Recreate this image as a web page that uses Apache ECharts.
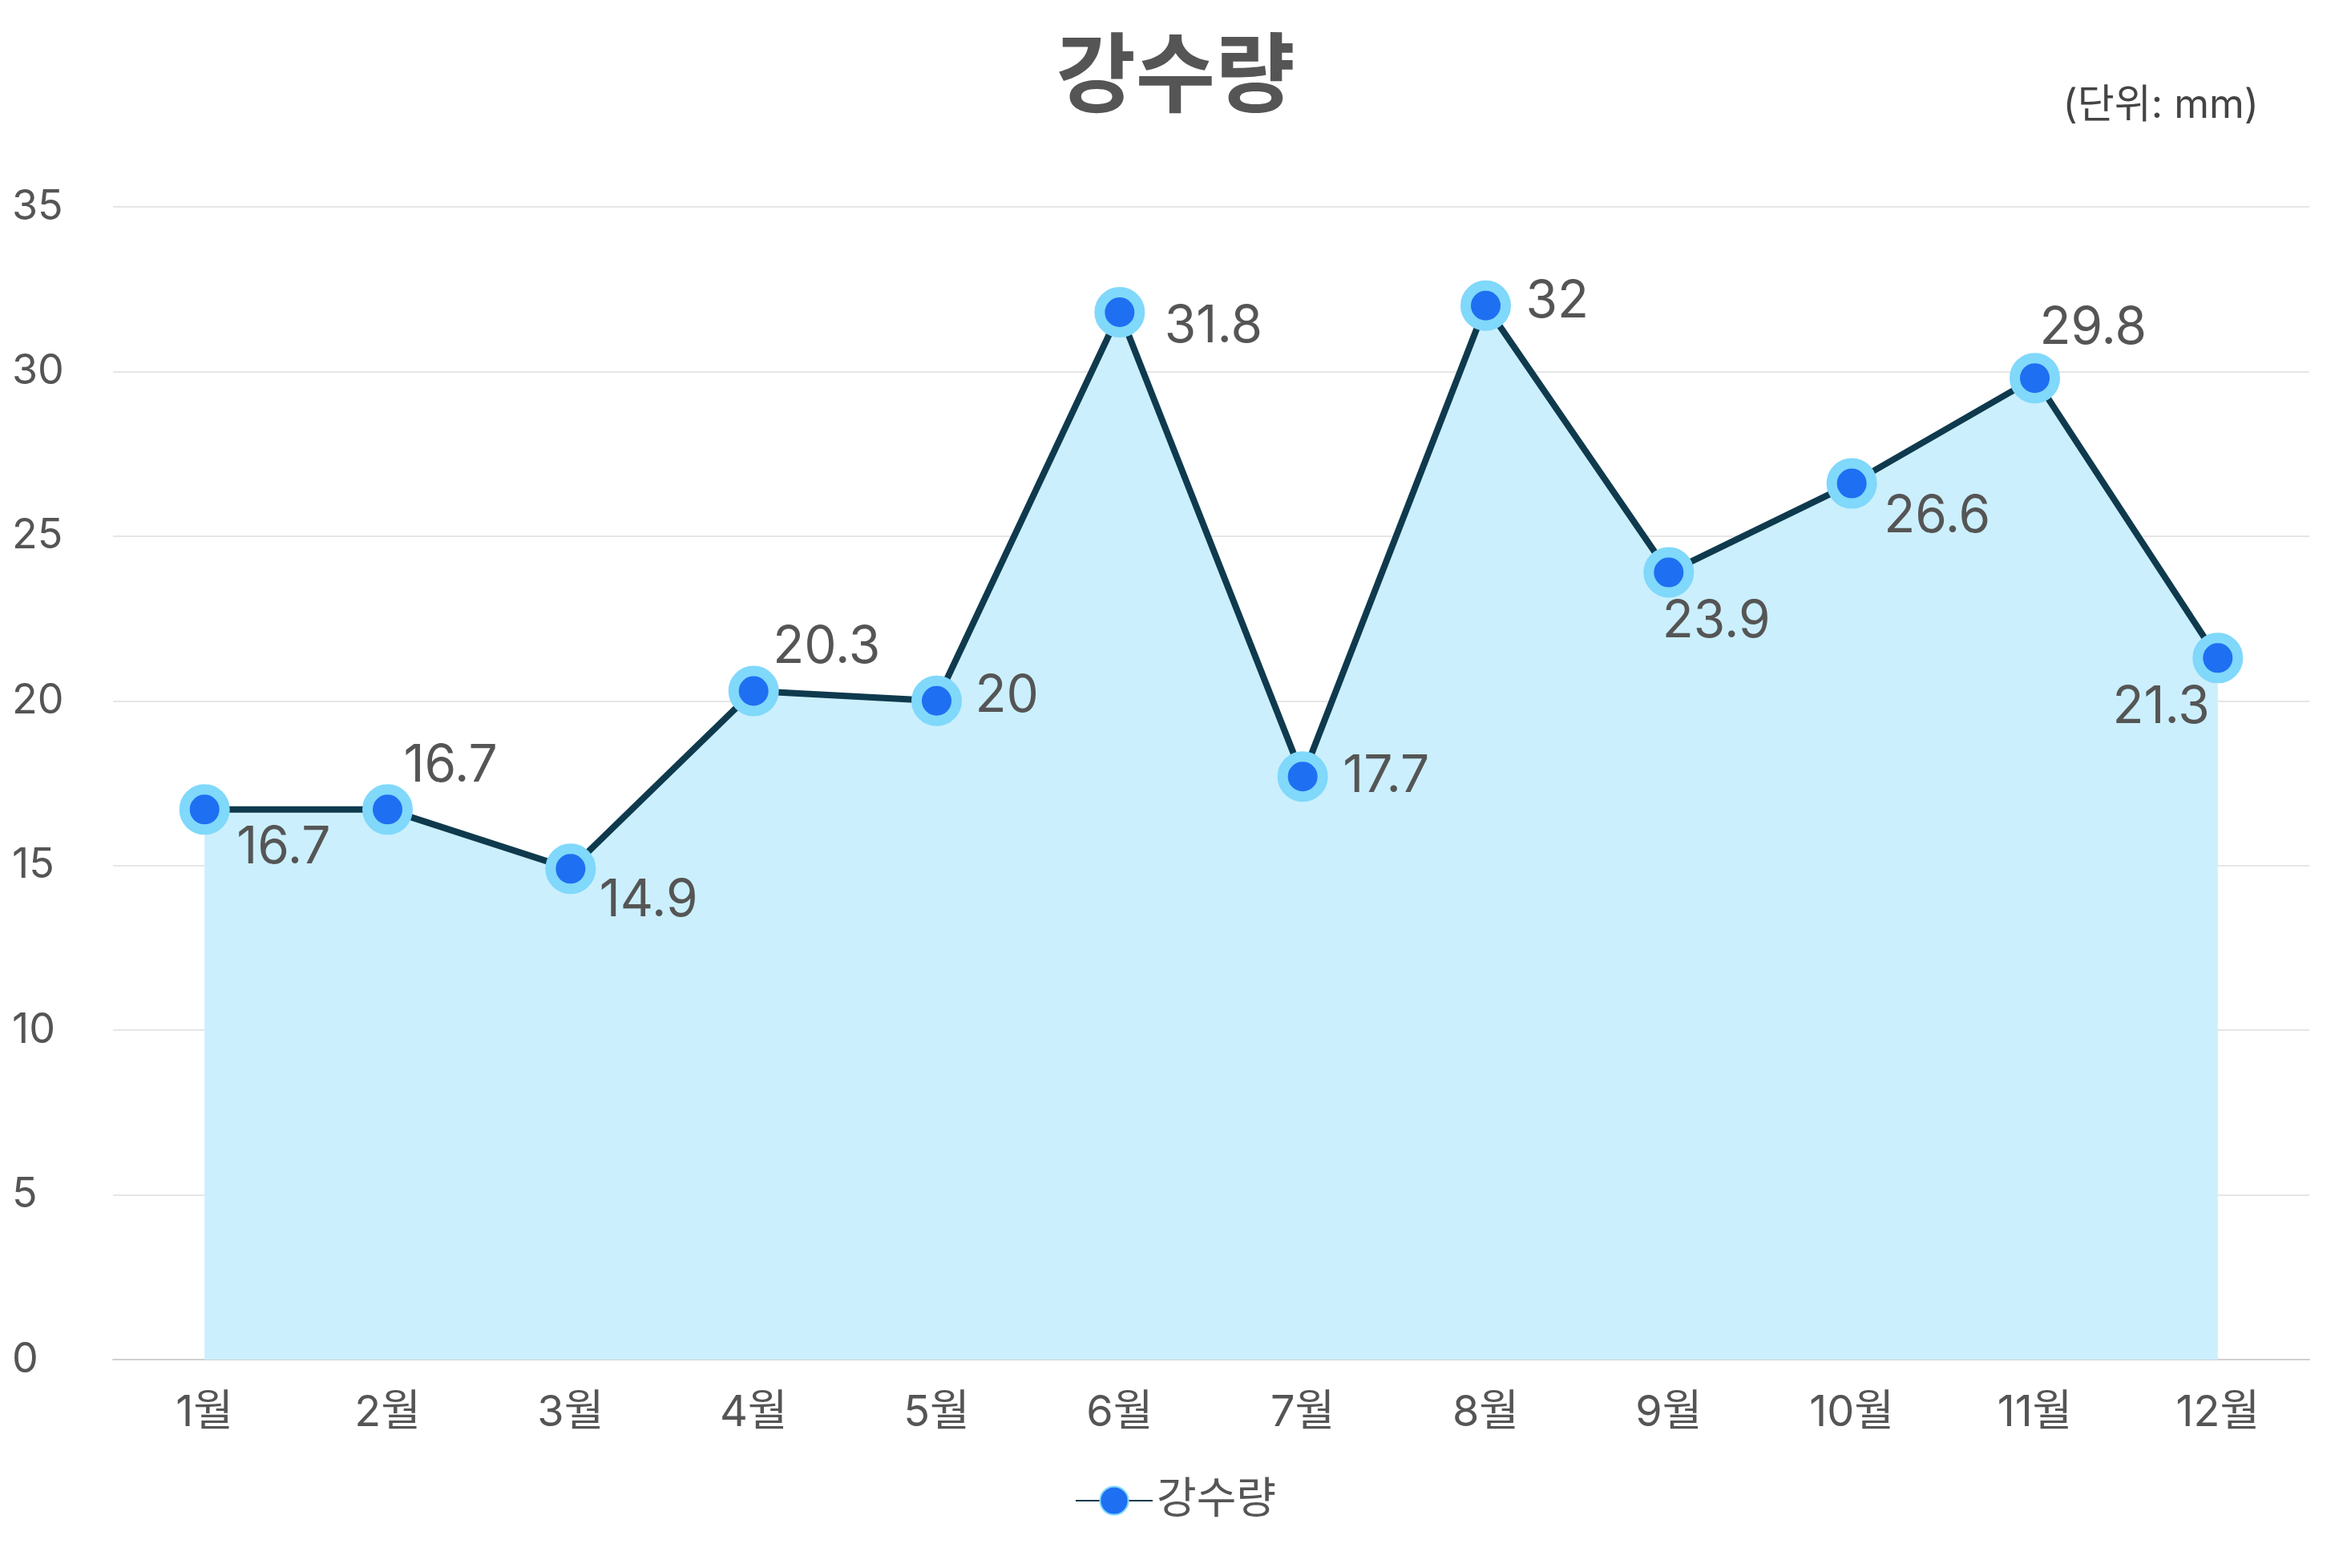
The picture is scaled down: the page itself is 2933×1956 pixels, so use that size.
<!DOCTYPE html>
<html><head><meta charset="utf-8">
<script src="https://cdn.jsdelivr.net/npm/echarts@6/dist/echarts.min.js"></script>
<style>html,body{margin:0;padding:0;background:#fff}#c{width:2933px;height:1956px}</style>
</head><body><div id="c"></div>
<script>
const categories = ['1월','2월','3월','4월','5월','6월','7월','8월','9월','10월','11월','12월'];
const rainfall = [16.7,16.7,14.9,20.3,20,31.8,17.7,32,23.9,26.6,29.8,21.3];
const seriesName = '강수량';
const labelPlacement = [
  [40,16,'left','top'],[20,-22,'left','bottom'],[36,8,'left','top'],[24,-22,'left','bottom'],
  [48,-6,'left','middle'],[56,18,'left','middle'],[50,0,'left','middle'],[50,-4,'left','middle'],
  [-8,30,'left','top'],[40,10,'left','top'],[6,-30,'left','bottom'],[-10,30,'right','top']
];
const chart = echarts.init(document.getElementById('c'));
const F = "Inter,'Noto Sans CJK KR',sans-serif";
chart.setOption({
  textStyle:{fontFamily:F},
  title:[{text:'강수량',left:'center',top:40,textStyle:{fontSize:108,fontWeight:'bold',color:'#555',fontFamily:F}},
         {text:'(단위: mm)',right:110,top:102,textStyle:{fontSize:50,fontWeight:'normal',color:'#444',fontFamily:F}}],
  grid:{left:141,right:52,top:258,bottom:260},
  legend:{bottom:52,left:'center',itemWidth:96,itemHeight:44,itemGap:6,textStyle:{fontSize:54,color:'#555',fontFamily:F},data:[seriesName]},
  xAxis:{type:'category',data:categories,boundaryGap:true,
    axisLine:{lineStyle:{color:'#d0d0d0',width:2}},axisTick:{show:false},
    axisLabel:{fontSize:54,color:'#555',margin:40,fontFamily:F}},
  yAxis:{type:'value',min:0,max:35,interval:5,
    axisLabel:{fontSize:52,color:'#555',margin:46,align:'left',padding:[0,0,0,-80],fontFamily:F},
    splitLine:{lineStyle:{color:'#e6e6e6',width:2}}},
  series:[{name:seriesName,type:'line',data:rainfall.map((v,i)=>({value:v,label:{offset:[labelPlacement[i][0],labelPlacement[i][1]],align:labelPlacement[i][2],verticalAlign:labelPlacement[i][3]}})),
    symbol:'circle',symbolSize:50,
    itemStyle:{color:'#1f6ff2',borderColor:'#80d8fb',borderWidth:13},
    lineStyle:{color:'#0f3a4e',width:8},
    areaStyle:{color:'#cbeffd',opacity:1},
    label:{show:true,position:'inside',fontSize:64,color:'#555',fontFamily:F}}]
});
</script></body></html>
